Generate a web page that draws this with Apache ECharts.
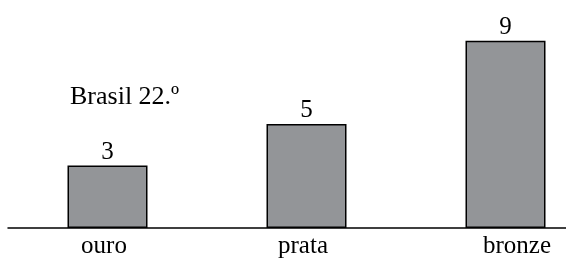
<!DOCTYPE html>
<html>
<head>
<meta charset="utf-8">
<script src="https://cdn.jsdelivr.net/npm/echarts@6/dist/echarts.min.js"></script>
<style>html,body{margin:0;padding:0;background:#fff}#c{width:566px;height:258px}</style>
</head>
<body>
<div id="c"></div>
<script>
const categories = ['ouro', 'prata', 'bronze'];
const medals = [3, 5, 9];
const note = 'Brasil 22.º';

const chart = echarts.init(document.getElementById('c'), null, {renderer: 'canvas'});
const font = '"Liberation Serif", "Times New Roman", serif';
chart.setOption({
  animation: false,
  backgroundColor: '#ffffff',
  grid: {left: 8, right: -39, top: 20, bottom: 30, outerBoundsMode: 'none', containLabel: false},
  xAxis: {
    type: 'category',
    data: categories,
    axisLine: {lineStyle: {color: '#000', width: 1.5}},
    axisTick: {show: false},
    axisLabel: {
      margin: 6,
      color: '#000',
      fontFamily: font,
      fontSize: 25,
      formatter: function (v, i) { return '{s' + i + '|' + v + '}'; },
      rich: {
        s0: {fontFamily: font, fontSize: 25, color: '#000', padding: [0, 7, 0, 0]},
        s1: {fontFamily: font, fontSize: 25, color: '#000', padding: [0, 7, 0, 0]},
        s2: {fontFamily: font, fontSize: 25, color: '#000', padding: [0, 0, 0, 23]}
      }
    }
  },
  yAxis: {
    type: 'value', min: 0, max: 10, show: false,
    splitLine: {show: false}
  },
  series: [{
    type: 'bar',
    data: medals,
    barWidth: 80,
    itemStyle: {color: '#939598', borderColor: '#000', borderWidth: 1.5},
    label: {
      show: true, position: 'top', distance: 1,
      color: '#000', fontFamily: font, fontSize: 25
    }
  }],
  graphic: [{
    type: 'text', left: 70, top: 84,
    style: {text: note, fill: '#000', font: '26px ' + font}
  }]
});
</script>
</body>
</html>
